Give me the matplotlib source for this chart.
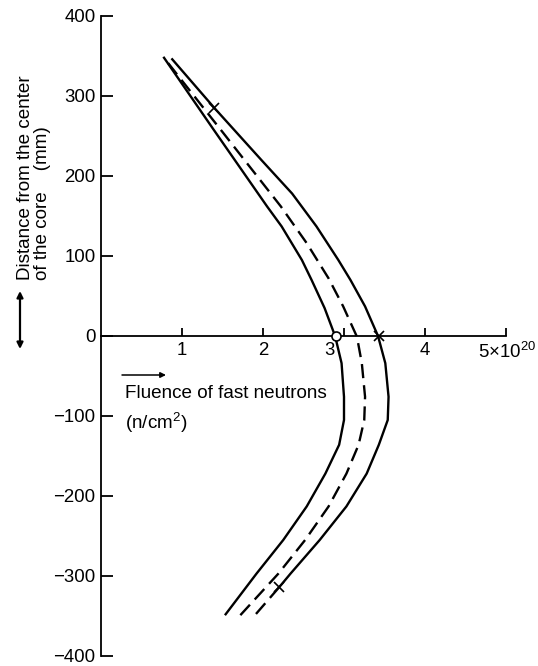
import numpy as np
import matplotlib
matplotlib.use('Agg')
from matplotlib import pyplot as plt

plt.rcParams['font.family'] = ['Liberation Sans', 'DejaVu Sans']
plt.rcParams['mathtext.fontset'] = 'custom'
plt.rcParams['mathtext.rm'] = 'Liberation Sans'
plt.rcParams['mathtext.it'] = 'Liberation Sans:italic'

# fluence (1e20 n/cm2) vs distance from core center (mm)
left_x = [0.77, 1.39, 2.05, 2.23, 2.48, 2.60, 2.76, 2.89, 2.97, 3.00, 3.00,
          2.94, 2.77, 2.54, 2.25, 1.92, 1.53]
left_y = [349, 258, 162, 137, 95, 70, 35, 0, -34, -76, -105,
          -136, -172, -213, -255, -297, -349]

mid_x = [0.83, 1.50, 2.22, 2.54, 2.81, 2.99, 3.16, 3.22, 3.26, 3.25,
         3.18, 3.03, 2.81, 2.52, 2.19, 1.72]
mid_y = [341, 255, 162, 116, 72, 37, -1, -34, -76, -105,
         -136, -172, -213, -255, -297, -349]

right_x = [0.87, 1.40, 1.98, 2.36, 2.66, 2.93, 3.08, 3.26, 3.42, 3.51, 3.55,
           3.54, 3.43, 3.28, 3.03, 2.70, 2.34, 2.20]
right_y = [347, 285, 220, 178, 137, 95, 70, 37, 0, -34, -76,
           -105, -136, -172, -213, -255, -297, -314]
right_tail_x = [2.20, 1.90]
right_tail_y = [-314, -349]

cross_x = [1.40, 3.43, 2.20]
cross_y = [285, 0, -314]
circle_x = [2.90]
circle_y = [0]

xticks = [1, 2, 3, 4, 5]
xtick_labels = ['1', '2', '3', '4', '5×$10^{20}$']
yticks = [-400, -300, -200, -100, 0, 100, 200, 300, 400]

W, H = 538, 666
fs = 13.6
fig = plt.figure(figsize=(W / 100, H / 100), dpi=100)
ax = fig.add_axes([101 / W, (H - 656) / H, (506 - 101) / W, (656 - 16) / H])
ax.set_xlim(0, 5)
ax.set_ylim(-400, 400)

for s in ['top', 'right']:
    ax.spines[s].set_visible(False)
ax.spines['left'].set_position(('data', 0))
ax.spines['bottom'].set_position(('data', 0))
for s in ['left', 'bottom']:
    ax.spines[s].set_linewidth(1.3)

ax.set_yticks(yticks)
ax.set_yticklabels([str(v).replace('-', '\u2212') for v in yticks], fontsize=13.4)
ax.tick_params(axis='y', direction='in', length=8.5, width=1.3, pad=4)
ax.set_xticks(xticks)
ax.set_xticklabels([''] * len(xticks))
ax.tick_params(axis='x', direction='in', length=6, width=1.3)

# x tick labels placed by hand ("3" sits left of the curve)
for xv, lab in zip(xticks, xtick_labels):
    if lab == '3':
        ax.text(xv - 0.11, -8, lab, ha='right', va='top', fontsize=13.4)
    elif xv == 5:
        ax.text(xv - 0.35, -8, lab, ha='left', va='top', fontsize=13.4)
    else:
        ax.text(xv, -8, lab, ha='center', va='top', fontsize=13.4)

lw = 1.7
ax.plot(left_x, left_y, color='black', lw=lw, solid_capstyle='butt',
        solid_joinstyle='round')
ax.plot(mid_x, mid_y, color='black', lw=lw, dashes=(6, 3))
ax.plot(right_x, right_y, color='black', lw=lw, solid_capstyle='butt',
        solid_joinstyle='round')
ax.plot(right_tail_x, right_tail_y, color='black', lw=lw, dashes=(6, 3))

ax.plot(cross_x, cross_y, 'x', color='black', ms=7, mew=1.2, clip_on=False)
ax.plot(circle_x, circle_y, 'o', mfc='white', mec='black', ms=6.5, mew=1.2,
        clip_on=False, zorder=5)

# axis titles
fig.text(34 / W, (H - 280) / H, 'Distance from the center\nof the core    (mm)',
         rotation=90, ha='center', va='bottom', multialignment='left',
         fontsize=fs, linespacing=1.05)
ax.annotate('', xy=(20, H - 291), xytext=(20, H - 349), xycoords='figure pixels',
            textcoords='figure pixels',
            arrowprops=dict(arrowstyle='<|-|>', lw=1.6, color='black',
                            mutation_scale=9, shrinkA=0, shrinkB=0))

ax.annotate('', xy=(166, H - 375), xytext=(122, H - 375), xycoords='figure pixels',
            textcoords='figure pixels',
            arrowprops=dict(arrowstyle='-|>', lw=1.1, color='black',
                            mutation_scale=8, shrinkA=0, shrinkB=0))
fig.text(125 / W, (H - 393) / H, 'Fluence of fast neutrons', ha='left',
         va='center', fontsize=fs)
fig.text(125 / W, (H - 423) / H, '(n/cm$^2$)', ha='left', va='center', fontsize=fs)

fig.savefig('out.png', dpi=100)
